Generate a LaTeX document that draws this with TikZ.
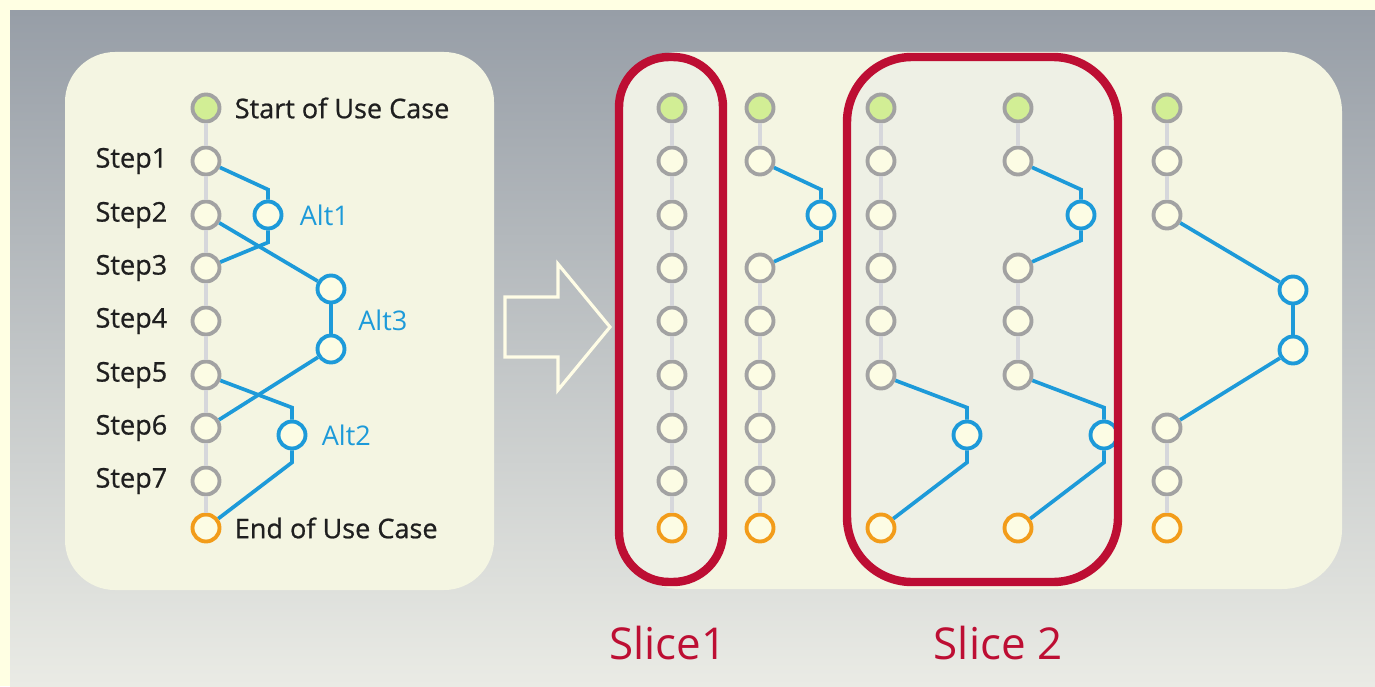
\documentclass[tikz,border=0pt]{standalone}
\usepackage{fontspec}
\setmainfont{Open Sans}
\newfontfamily\ucLabelFont{Open Sans}[FakeBold=0.8]
\usetikzlibrary{positioning}
\definecolor{ucFrame}{HTML}{FFFFE3}
\definecolor{ucGrayTop}{HTML}{979EA7}
\definecolor{ucGrayBot}{HTML}{EAEBE5}
\definecolor{ucPanel}{HTML}{F4F5E2}
\definecolor{ucSliceIn}{HTML}{EEF0E5}
\definecolor{ucDot}{HTML}{FCFCE4}
\definecolor{ucRing}{HTML}{A2A2A2}
\definecolor{ucChain}{HTML}{D6D7DB}
\definecolor{ucStart}{HTML}{D2EE95}
\definecolor{ucEnd}{HTML}{F29C1A}
\definecolor{ucBlue}{HTML}{1D9AD9}
\definecolor{ucRed}{HTML}{BD0E33}
\definecolor{ucArrow}{HTML}{FFFDE6}

\begin{document}
\begin{tikzpicture}[x=0.02cm,y=-0.02cm,
   font=\fontsize{15.4}{18}\selectfont,
   stepdot/.style={circle,draw=ucRing,fill=ucDot,line width=2.2pt,
                   minimum size=0.54cm,inner sep=0pt},
   startdot/.style={stepdot,fill=ucStart},
   enddot/.style={stepdot,draw=ucEnd},
   altdot/.style={stepdot,draw=ucBlue},
   chainline/.style={draw=ucChain,line width=1.9pt},
   altline/.style={draw=ucBlue,line width=2.1pt},
   altlabel/.style={text=ucBlue,inner sep=0pt},
   steplabel/.style={text=black!88,inner sep=0pt,
                     font=\ucLabelFont\fontsize{15.4}{18}\selectfont},
   slicebox/.style={draw=ucRed,line width=4.8pt},
   slicelabel/.style={text=ucRed,font=\fontsize{25}{30}\selectfont}]
  \useasboundingbox (0,0) rectangle (1375,686);
  % backdrop
  \fill[ucFrame] (0,0) rectangle (1375,686);
  \shade[top color=ucGrayTop,bottom color=ucGrayBot] (10,11) rectangle (1375,686);
  \fill[ucPanel,rounded corners=1cm] (65,52) rectangle (494,590);
  \fill[ucPanel,rounded corners=1.2cm] (620,52) rectangle (1342,589);
  \fill[ucSliceIn,rounded corners=1cm] (619,57) rectangle (723,582);
  \fill[ucSliceIn,rounded corners=1.3cm] (847,57) rectangle (1118,582);
  \draw[ucArrow,line width=1.8pt,line join=miter]
    (505,297) -- (558,297) -- (558,264) -- (610,327) -- (558,390)
    -- (558,357) -- (505,357) -- cycle;

  % use case on the left
  \node[startdot] (l-S) at (206,108) {};
  \foreach \k/\yy in {1/161,2/215,3/268,4/321,5/375,6/428,7/481}
    \node[stepdot] (l-\k) at (206,\yy) {};
  \node[enddot] (l-E) at (206,528) {};
  \node[altdot] (l-A1) at (268,215) {};
  \node[altdot] (l-A3t) at (331,289) {};
  \node[altdot] (l-A3b) at (331,349) {};
  \node[altdot] (l-A2) at (292,435) {};
  \foreach \a/\b in {S/1,1/2,2/3,3/4,4/5,5/6,6/7,7/E}
    \draw[chainline] (l-\a) -- (l-\b);
  \draw[altline] (l-1) -- ([yshift=0.2cm]l-A1.north) -- (l-A1);
  \draw[altline] (l-A1) -- ([yshift=-0.24cm]l-A1.south) -- (l-3);
  \draw[altline] (l-2) -- (l-A3t);
  \draw[altline] (l-A3t) -- (l-A3b);
  \draw[altline] (l-A3b) -- (l-6);
  \draw[altline] (l-5) -- ([yshift=0.24cm]l-A2.north) -- (l-A2);
  \draw[altline] (l-A2) -- ([yshift=-0.24cm]l-A2.south) -- (l-E);

  \node[steplabel,right=0.26cm of l-S] (startlbl) {Start of Use Case};
  \node[steplabel,right=0.26cm of l-E] (endlbl) {End of Use Case};
  \foreach \k in {1,...,7}
    \node[steplabel,left=0.46cm of l-\k] (lbl-\k) {Step\k};
  \node[altlabel,right=0.32cm of l-A1] (alt1lbl) {Alt1};
  \node[altlabel,anchor=west] (alt3lbl) at (358,320) {Alt3};
  \node[altlabel,right=0.28cm of l-A2] (alt2lbl) {Alt2};

  % the five paths on the right
  \foreach \col/\xx in {a/672,b/760,c/881,d/1018,e/1167}{
    \node[startdot] (\col-S) at (\xx,108) {};
    \node[enddot] (\col-E) at (\xx,528) {};
  }
  \foreach \k/\yy in {1/161,2/215,3/268,4/321,5/375,6/428,7/481}
    \node[stepdot] (a-\k) at (672,\yy) {};
  \foreach \k/\yy in {1/161,3/268,4/321,5/375,6/428,7/481}
    \node[stepdot] (b-\k) at (760,\yy) {};
  \foreach \k/\yy in {1/161,2/215,3/268,4/321,5/375}
    \node[stepdot] (c-\k) at (881,\yy) {};
  \foreach \k/\yy in {1/161,3/268,4/321,5/375}
    \node[stepdot] (d-\k) at (1018,\yy) {};
  \foreach \k/\yy in {1/161,2/215,6/428,7/481}
    \node[stepdot] (e-\k) at (1167,\yy) {};
  \node[altdot] (b-A1) at (821,215) {};
  \node[altdot] (c-A2) at (967,435) {};
  \node[altdot] (d-A1) at (1081,215) {};
  \node[altdot] (d-A2) at (1104,435) {};
  \node[altdot] (e-A3t) at (1293,290) {};
  \node[altdot] (e-A3b) at (1293,350) {};

  \foreach \a/\b in {a-S/a-1,a-1/a-2,a-2/a-3,a-3/a-4,a-4/a-5,a-5/a-6,a-6/a-7,a-7/a-E,
                     b-S/b-1,b-3/b-4,b-4/b-5,b-5/b-6,b-6/b-7,b-7/b-E,
                     c-S/c-1,c-1/c-2,c-2/c-3,c-3/c-4,c-4/c-5,
                     d-S/d-1,d-3/d-4,d-4/d-5,
                     e-S/e-1,e-1/e-2,e-6/e-7,e-7/e-E}
    \draw[chainline] (\a) -- (\b);

  \draw[altline] (b-1) -- ([yshift=0.2cm]b-A1.north) -- (b-A1);
  \draw[altline] (b-A1) -- ([yshift=-0.2cm]b-A1.south) -- (b-3);
  \draw[altline] (c-5) -- ([yshift=0.24cm]c-A2.north) -- (c-A2);
  \draw[altline] (c-A2) -- ([yshift=-0.24cm]c-A2.south) -- (c-E);
  \draw[altline] (d-1) -- ([yshift=0.2cm]d-A1.north) -- (d-A1);
  \draw[altline] (d-A1) -- ([yshift=-0.2cm]d-A1.south) -- (d-3);
  \draw[altline] (d-5) -- ([yshift=0.24cm]d-A2.north) -- (d-A2);
  \draw[altline] (d-A2) -- ([yshift=-0.24cm]d-A2.south) -- (d-E);
  \draw[altline] (e-2) -- (e-A3t);
  \draw[altline] (e-A3t) -- (e-A3b);
  \draw[altline] (e-A3b) -- (e-6);

  % slices
  \draw[slicebox,rounded corners=1cm] (619,57) rectangle (723,582);
  \draw[slicebox,rounded corners=1.3cm] (847,57) rectangle (1118,582);
  \node[slicelabel] (slice1) at (668,643) {Slice1};
  \node[slicelabel] (slice2) at (998,643) {Slice 2};
\end{tikzpicture}
\end{document}
